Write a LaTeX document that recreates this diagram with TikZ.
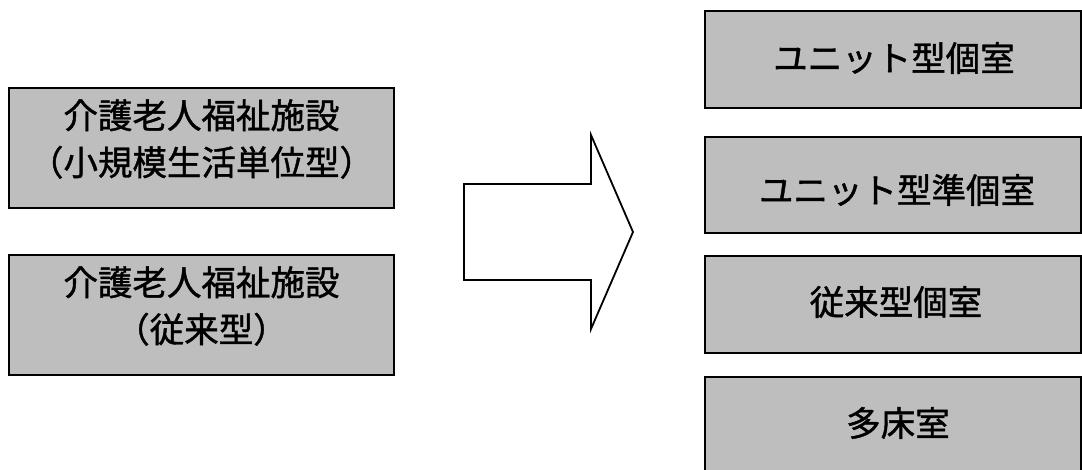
\documentclass[tikz,border=0pt]{standalone}
\usepackage{fontspec}
\setmainfont{Noto Sans CJK JP}[FakeBold=1.2]
\definecolor{boxgray}{RGB}{190,190,190}
\tikzset{
  graybox/.style={draw=black, line width=2.5pt, fill=boxgray, inner sep=0pt, rectangle},
  boxtext/.style={font=\fontsize{34.5}{47}\selectfont, align=center, inner sep=0pt},
  blockarrow/.style={draw=black, line width=1.8pt, fill=white, line join=miter}
}
\begin{document}
\begin{tikzpicture}[x=1pt,y=-1pt]
\useasboundingbox (0,0) rectangle (1082,469);
% left boxes
\node[graybox, minimum width=385pt, minimum height=120pt] (L1) at (201.5,148) {};
\node[boxtext] (L1t) at (201.5,139) {介護老人福祉施設\\（小規模生活単位型）};
\node[graybox, minimum width=385pt, minimum height=120pt] (L2) at (201.5,315) {};
\node[boxtext] (L2t) at (201.5,306) {介護老人福祉施設\\（従来型）};
% arrow
\draw[blockarrow] (464,184) -- (591,184) -- (591,135) -- (633,232) -- (591,329) -- (591,280) -- (464,280) -- cycle;
% right boxes
\node[graybox, minimum width=376pt, minimum height=97pt] (R1) at (893,59.5) {};
\node[boxtext] (R1t) at (894,58) {ユニット型個室};
\node[graybox, minimum width=376pt, minimum height=96pt] (R2) at (893,185) {};
\node[boxtext] (R2t) at (897,190) {ユニット型準個室};
\node[graybox, minimum width=376pt, minimum height=97pt] (R3) at (893,304.5) {};
\node[boxtext] (R3t) at (896,302) {従来型個室};
\node[graybox, minimum width=376pt, minimum height=97pt] (R4) at (893,425.5) {};
\node[boxtext] (R4t) at (898,423) {多床室};
\end{tikzpicture}
\end{document}
